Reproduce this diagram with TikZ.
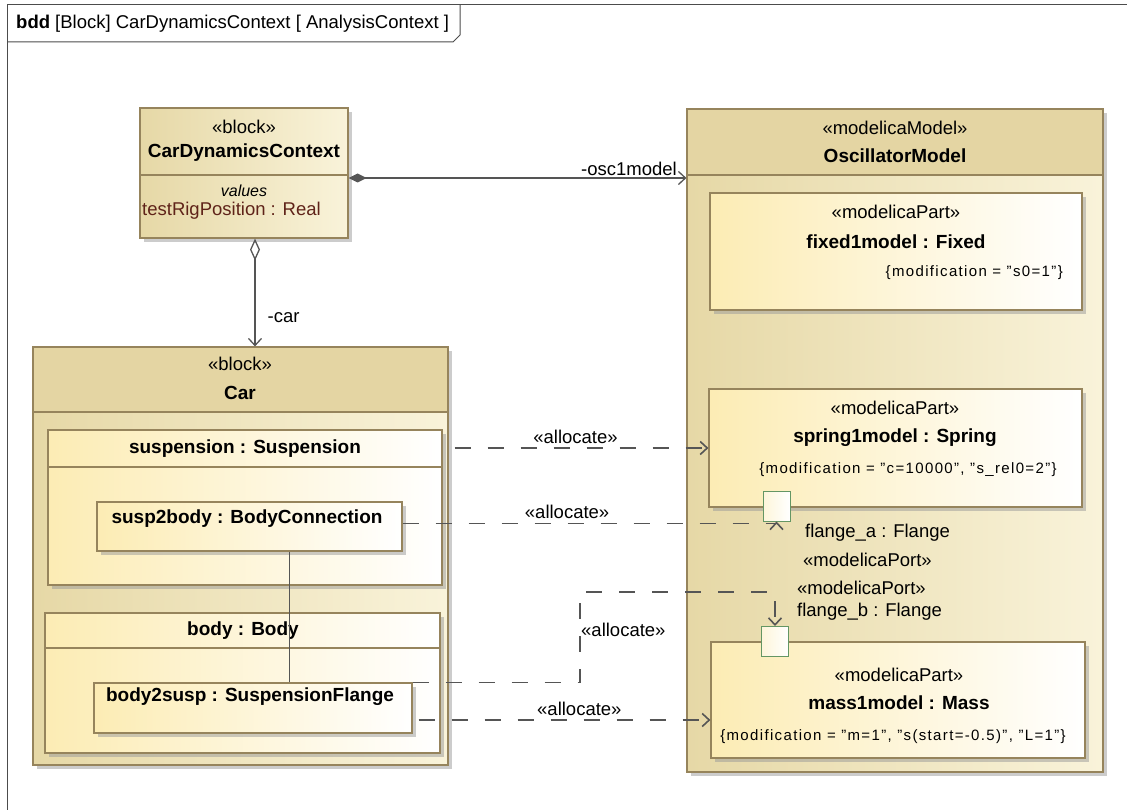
\documentclass[tikz,border=0pt]{standalone}
\usepackage{fontspec}
\setmainfont{Liberation Sans}
\usepackage{tikz}
\usetikzlibrary{arrows.meta,shadows}

\definecolor{blockedge}{RGB}{150,132,92}
\definecolor{blockhead}{RGB}{228,213,163}
\definecolor{blockleft}{RGB}{230,216,166}
\definecolor{blockright}{RGB}{249,243,218}
\definecolor{partleft}{RGB}{252,236,180}
\definecolor{portedge}{RGB}{100,150,100}
\definecolor{linegray}{RGB}{85,85,85}
\definecolor{valuecol}{RGB}{95,35,25}

\tikzset{
  lbl/.style={inner sep=0pt, font=\fontsize{18.5}{22}\selectfont},
  bname/.style={inner sep=0pt, font=\bfseries\fontsize{19}{22}\selectfont},
  modtext/.style={inner sep=0pt, font=\fontsize{15}{18}\selectfont\addfontfeature{LetterSpace=9}},
  block/.style={draw=blockedge, line width=1.2pt, left color=blockleft, right color=blockright,
    drop shadow={shadow xshift=4pt, shadow yshift=-4pt, fill=black!40, opacity=0.5}, inner sep=0pt},
  part/.style={draw=blockedge, line width=1.2pt, left color=partleft, right color=white,
    drop shadow={shadow xshift=4pt, shadow yshift=-4pt, fill=black!40, opacity=0.5}, inner sep=0pt},
  port/.style={draw=portedge, line width=1pt, left color=partleft!50, right color=white,
    minimum width=27pt, minimum height=30pt, inner sep=0pt},
  headfill/.style={draw=blockedge, line width=1.2pt, fill=blockhead},
  seprule/.style={draw=blockedge, line width=1.2pt},
  diagframe/.style={draw=black!70, line width=1pt},
  assoc/.style={draw=linegray, line width=1.3pt},
  alloc/.style={draw=linegray, line width=1.6pt, dash pattern=on 16pt off 17pt,
    -{Straight Barb[length=7pt,width=13pt]}}
}

\begin{document}
\begin{tikzpicture}[x=1pt, y=-1pt]
    \useasboundingbox (0,0) rectangle (1127,810);
    % frame and tab
    \draw[diagframe] (7,810) -- (7,5) -- (1127,5);
    \draw[diagframe] (7,42) -- (453,42) -- (460,35) -- (460,5);
    \node[lbl, anchor=west] (header) at (16,24) {\textbf{bdd} [Block] CarDynamicsContext [ AnalysisContext ]};

    % context block
    \node[block, minimum width=208pt, minimum height=130pt] (ctx) at (244,173) {};
    \draw[seprule] (140,175) -- (348,175);
    \node[lbl] (ctxst) at (244,127) {«block»};
    \node[bname] (ctxname) at (244,153) {CarDynamicsContext};
    \node[lbl, font=\itshape\fontsize{16}{19}\selectfont] (ctxval) at (244,191) {values};
    \node[lbl, anchor=west, text=valuecol] (ctxrig) at (142,211) {testRigPosition : Real};

    % oscillator model
    \node[block, minimum width=416pt, minimum height=663pt] (osc) at (895,440.5) {};
    \filldraw[headfill] (687,109) rectangle (1103,175);
    \node[lbl] (oscst) at (895,128) {«modelicaModel»};
    \node[bname] (oscname) at (895,156) {OscillatorModel};

    \node[part, minimum width=372pt, minimum height=117pt] (fixed) at (896,251.5) {};
    \node[lbl] (fixedst) at (896,212) {«modelicaPart»};
    \node[bname] (fixedname) at (896,242) {fixed1model : Fixed};
    \node[modtext, anchor=east] (fixedmod) at (1063,273) {\{modification = "s0=1"\}};

    \node[part, minimum width=373pt, minimum height=118pt] (spring) at (895.5,448) {};
    \node[lbl] (springst) at (895,408) {«modelicaPart»};
    \node[bname] (springname) at (895,438) {spring1model : Spring};
    \node[modtext] (springmod) at (908,470) {\{modification = "c=10000", "s\_rel0=2"\}};

    \node[part, minimum width=374pt, minimum height=116pt] (mass) at (898,700) {};
    \node[lbl] (massst) at (899,675) {«modelicaPart»};
    \node[bname] (massname) at (899,703) {mass1model : Mass};
    \node[modtext] (massmod) at (893,737) {\{modification = "m=1", "s(start=-0.5)", "L=1"\}};

    \node[port] (porta) at (776.5,506) {};
    \node[port] (portb) at (775,641.5) {};
    \node[lbl, anchor=west] (portaname) at (805,533) {flange\_a : Flange};
    \node[lbl, anchor=west] (portast) at (803,560) {«modelicaPort»};
    \node[lbl, anchor=west] (portbst) at (797,588) {«modelicaPort»};
    \node[lbl, anchor=west] (portbname) at (797,612) {flange\_b : Flange};

    % car block
    \node[block, minimum width=415pt, minimum height=418pt] (car) at (240.5,556) {};
    \filldraw[headfill] (33,347) rectangle (448,412);
    \node[lbl] (carst) at (240,364) {«block»};
    \node[bname] (carname) at (240,393) {Car};

    \node[part, minimum width=394pt, minimum height=155pt] (susp) at (245,507.5) {};
    \draw[seprule] (48,467) -- (442,467);
    \node[bname] (suspname) at (245,449) {suspension : Suspension};
    \node[part, minimum width=305pt, minimum height=49pt] (s2b) at (249.5,526.5) {};
    \node[bname] (s2bname) at (247,519) {susp2body : BodyConnection};

    \node[part, minimum width=395pt, minimum height=140pt] (body) at (242.5,683) {};
    \draw[seprule] (45,648) -- (440,648);
    \node[bname] (bodyname) at (243,631) {body : Body};
    \node[part, minimum width=318pt, minimum height=50pt] (b2s) at (253,708) {};
    \node[bname] (b2sname) at (250,697) {body2susp : SuspensionFlange};

    % associations
    \draw[assoc, {Diamond[length=18pt,width=9pt]}-{Straight Barb[length=7pt,width=13pt]}]
      ([yshift=-5pt]ctx.east) -- ([yshift=-5pt]ctx.east -| osc.west) node[pos=0.83, above=2pt, lbl]{-osc1model};
    \draw[assoc, {Diamond[open,fill=white,length=22pt,width=10pt]}-{Straight Barb[length=7pt,width=13pt]}]
      ([xshift=11pt]ctx.south) -- ([xshift=11pt]ctx.south |- car.north) node[pos=0.73, right=12pt, lbl]{-car};
    \draw[assoc] ([xshift=40pt]s2b.south) -- ([xshift=40pt]s2b.south |- b2s.north);

    % allocations
    \coordinate (bend) at (580,592);
    \draw[alloc, shorten <=12pt] (susp.east |- spring.west) -- (spring.west) node[midway, above=4pt, lbl]{«allocate»};
    \draw[alloc] ([yshift=3pt]s2b.east) -| (porta.south) node[pos=0.22, above=4pt, lbl]{«allocate»};
    \draw[alloc] (b2s.north east) -| (bend) -| (portb.north);
    \node[lbl, anchor=west] (alloc3) at (581,630) {«allocate»};
    \draw[alloc, shorten <=6pt] ([yshift=-12pt]b2s.east) -- ([yshift=-12pt]b2s.east -| mass.west) node[pos=0.56, above=4pt, lbl]{«allocate»};
\end{tikzpicture}
\end{document}
